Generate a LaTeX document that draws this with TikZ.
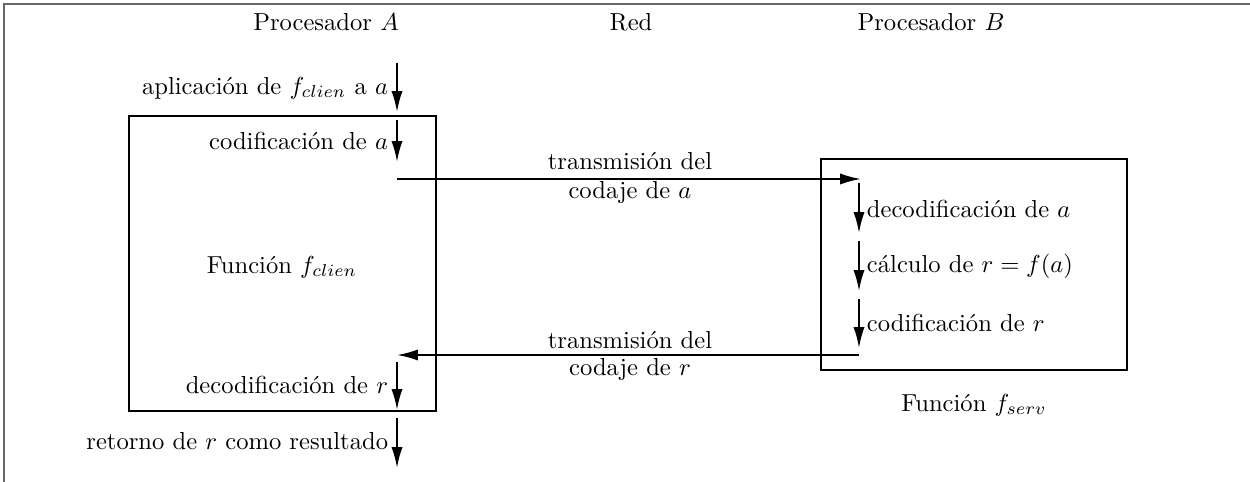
\documentclass[tikz,border=0pt]{standalone}
\usepackage{fontspec}
\usetikzlibrary{arrows.meta, positioning}

\tikzset{
	flow/.style={line width=0.8pt, -{Latex[length=3mm, width=1.6mm]}},
	lbl/.style={inner sep=1pt},
	proc/.style={draw, line width=0.8pt}
}

\begin{document}
\begin{tikzpicture}[x=0.0143cm, y=-0.0143cm]

	\useasboundingbox (0,0) rectangle (1250,482);
	\draw[gray!80!black, line width=0.9pt] (4,482) -- (4,4) -- (1250,4);

	% columns
	\node (procA) at (326,22) {Procesador $A$};
	\node (red) at (631,22) {Red};
	\node (procB) at (931,22) {Procesador $B$};

	% processor boxes
	\draw[proc] (129,116) rectangle (436,411);
	\draw[proc] (821,159) rectangle (1127,370);
	\node (fclien) at (282,267) {Funci\'on $f_{clien}$};
	\node (fserv) at (974,405) {Funci\'on $f_{serv}$};

	% side A
	\coordinate (a1) at (397,63);
	\coordinate (a2) at (397,112);
	\coordinate (a3) at (397,120);
	\coordinate (a4) at (397,162);
	\coordinate (a5) at (397,179);
	\coordinate (a6) at (397,355);
	\coordinate (a7) at (397,362);
	\coordinate (a8) at (397,410);
	\coordinate (a9) at (397,418);
	\coordinate (a10) at (397,468);

	% side B
	\coordinate (b1) at (861,179);
	\coordinate (b2) at (859,183);
	\coordinate (b3) at (859,233);
	\coordinate (b4) at (859,241);
	\coordinate (b5) at (859,291);
	\coordinate (b6) at (859,299);
	\coordinate (b7) at (859,348);
	\coordinate (b8) at (859,355);

	\draw[flow] (a1) -- (a2);
	\draw[flow] (a3) -- (a4);
	\draw[flow] (a5) -- (b1);
	\draw[flow] (b2) -- (b3);
	\draw[flow] (b4) -- (b5);
	\draw[flow] (b6) -- (b7);
	\draw[flow] (b8) -- (a6);
	\draw[flow] (a7) -- (a8);
	\draw[flow] (a9) -- (a10);

	\node[lbl, anchor=east] (aplic) at (391,88) {aplicaci\'on de $f_{clien}$ a $a$};
	\node[lbl, anchor=east] (codA) at (391,141) {codificaci\'on de $a$};
	\node[lbl, anchor=east] (decR) at (391,385) {decodificaci\'on de $r$};
	\node[lbl, anchor=east] (ret) at (391,441) {retorno de $r$ como resultado};

	\node[lbl, anchor=west] (decA) at (864,209) {decodificaci\'on de $a$};
	\node[lbl, anchor=west] (calc) at (864,266) {c\'alculo de $r=f(a)$};
	\node[lbl, anchor=west] (codR) at (864,323) {codificaci\'on de $r$};

	\node[lbl] (transA) at (630,161) {transmisi\'on del};
	\node[lbl] (codajeA) at (630,192) {codaje de $a$};
	\node[lbl] (transR) at (630,340) {transmisi\'on del};
	\node[lbl] (codajeR) at (630,369) {codaje de $r$};

\end{tikzpicture}
\end{document}
